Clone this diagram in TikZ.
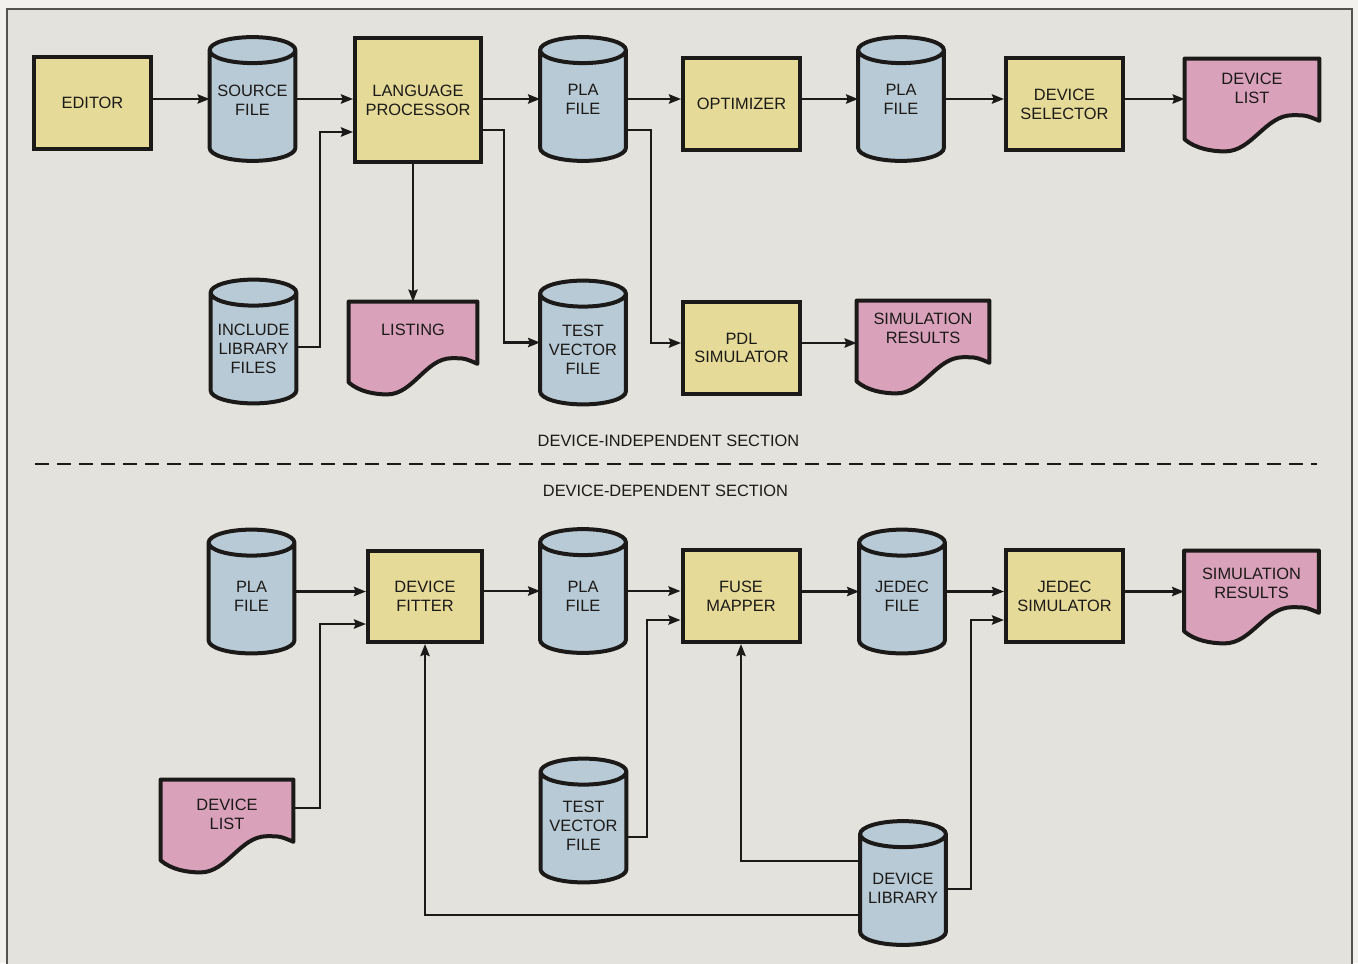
\documentclass[tikz,border=0pt]{standalone}
\usepackage{fontspec}
\setmainfont{Liberation Sans}
\usetikzlibrary{arrows.meta,calc}
\definecolor{yel}{HTML}{E6DA98}
\definecolor{blu}{HTML}{B8CAD6}
\definecolor{pnk}{HTML}{D9A2BA}
\definecolor{paper}{HTML}{E4E2DC}
\definecolor{outerc}{HTML}{F2F1EE}
\definecolor{ink}{HTML}{1C1A18}
\definecolor{framec}{HTML}{555350}
\pgfdeclarelayer{bg}\pgfdeclarelayer{shp}\pgfsetlayers{bg,shp,main}
\newcommand\lbl{\fontsize{8.2pt}{9.4pt}\selectfont}
\newcommand\cylshape[1]{%
  \path[draw=ink,line width=2pt,fill=blu] let \p1=(#1.north west), \p2=(#1.south east), \n1={(\x2-\x1)/2} in
   (\x1,\y1-6.5pt) -- (\x1,\y2+6.5pt) arc[start angle=180,end angle=360,x radius=\n1,y radius=6.5pt]
   -- (\x2,\y1-6.5pt) arc[start angle=0,end angle=180,x radius=\n1,y radius=6.5pt] -- cycle
   (\x1,\y1-6.5pt) arc[start angle=180,end angle=360,x radius=\n1,y radius=6.5pt];}
\newcommand\docshape[1]{%
  \path[draw=ink,line width=2pt,fill=pnk,line join=round] let \p1=(#1.north west), \p2=(#1.south east), \n1={\x2-\x1}, \n2={\y1-\y2} in
   (\x1,\y1) -- (\x2,\y1) -- (\x2,\y1-0.67*\n2)
   .. controls (\x1+0.9*\n1,\y1-0.61*\n2) .. (\x1+0.8*\n1,\y1-0.61*\n2)
   .. controls (\x1+0.6*\n1,\y1-0.61*\n2) and (\x1+0.5*\n1,\y2) .. (\x1+0.3*\n1,\y2)
   .. controls (\x1+0.2*\n1,\y2) and (\x1+0.08*\n1,\y1-0.97*\n2) .. (\x1,\y1-0.87*\n2) -- cycle;}
\begin{document}
\begin{tikzpicture}[x=0.5pt,y=-0.5pt,
  box/.style={draw=ink,line width=2pt,fill=yel,minimum width=58.5pt,minimum height=46pt,align=center,inner sep=0pt,font=\lbl,text=ink},
  cyl/.style={rectangle,draw=none,minimum width=42.5pt,minimum height=61.5pt,inner sep=0pt},
  cyllbl/.style={anchor=center,yshift=-32.5pt,align=center,font=\lbl,text=ink,inner sep=0pt},
  doc/.style={rectangle,draw=none,minimum width=67pt,minimum height=46pt,inner sep=0pt},
  doclbl/.style={anchor=center,yshift=-14pt,align=center,font=\lbl,text=ink,inner sep=0pt},
  sect/.style={font=\lbl,text=ink,inner sep=0pt},
  arr/.style={draw=ink,line width=1.2pt,-{Stealth[length=6pt,width=4.6pt,inset=0.8pt]}},
  dashline/.style={draw=ink,line width=1.1pt,dash pattern=on 7pt off 4pt}]
\useasboundingbox (0,0) rectangle (1358,963);
\begin{pgfonlayer}{bg}
\fill[outerc] (0,0) rectangle (1358,963);
\draw[fill=paper,draw=framec,line width=0.9pt] (7,9) rectangle (1352,990);
\end{pgfonlayer}
% boxes
\node[box] (editor) at (92.5,103) {EDITOR};
\node[box,minimum width=63pt,minimum height=62pt] (lp) at (418,100) {LANGUAGE\\PROCESSOR};
\node[box] (opt) at (741.5,104) {OPTIMIZER};
\node[box] (ds) at (1064.5,104) {DEVICE\\SELECTOR};
\node[box] (pdl) at (741.5,348) {PDL\\SIMULATOR};
\node[box,minimum width=57pt,minimum height=45.5pt] (df) at (425,596.5) {DEVICE\\FITTER};
\node[box] (fm) at (741,596) {FUSE\\MAPPER};
\node[box] (js) at (1064.5,596) {JEDEC\\SIMULATOR};
% cylinders
\node[cyl,label={[cyllbl,yshift=1pt]90:SOURCE\\FILE}] (src) at (252.5,99) {};
\node[cyl,label={[cyllbl,yshift=1.5pt]90:PLA\\FILE}] (pla1) at (583,99) {};
\node[cyl,label={[cyllbl,yshift=1.5pt]90:PLA\\FILE}] (pla2) at (901,99) {};
\node[cyl,label={[cyllbl,yshift=-2pt]90:INCLUDE\\LIBRARY\\FILES}] (inc) at (253.5,341.5) {};
\node[cyl,label={[cyllbl,yshift=-2pt]90:TEST\\VECTOR\\FILE}] (tv1) at (583,342.5) {};
\node[cyl,label={[cyllbl,yshift=-1pt]90:PLA\\FILE}] (pla3) at (251.5,591.5) {};
\node[cyl,label={[cyllbl,yshift=-1pt]90:PLA\\FILE}] (pla4) at (583,591) {};
\node[cyl,label={[cyllbl,yshift=-1pt]90:JEDEC\\FILE}] (jedec) at (902,591.5) {};
\node[cyl,label={[cyllbl,yshift=-1pt]90:TEST\\VECTOR\\FILE}] (tv2) at (583.5,820.5) {};
\node[cyl,label={[cyllbl,yshift=-1pt]90:DEVICE\\LIBRARY}] (lib) at (903,883) {};
% documents
\node[doc,label={[doclbl,yshift=-1pt]90:DEVICE\\LIST}] (dl1) at (1252,105) {};
\node[doc,minimum width=64pt,label={[doclbl]90:LISTING}] (listing) at (413,348) {};
\node[doc,minimum width=66pt,label={[doclbl]90:SIMULATION\\RESULTS}] (sr1) at (923,347) {};
\node[doc,label={[doclbl,yshift=-2.5pt]90:SIMULATION\\RESULTS}] (sr2) at (1251.5,597) {};
\node[doc,minimum width=66pt,label={[doclbl,yshift=-3.5pt]90:DEVICE\\LIST}] (dl2) at (227,826) {};
\begin{pgfonlayer}{shp}
\cylshape{src}\cylshape{pla1}\cylshape{pla2}\cylshape{inc}\cylshape{tv1}
\cylshape{pla3}\cylshape{pla4}\cylshape{jedec}\cylshape{tv2}\cylshape{lib}
\docshape{dl1}\docshape{listing}\docshape{sr1}\docshape{sr2}\docshape{dl2}
\end{pgfonlayer}
% section labels
\node[sect] (t1) at (668.5,441) {DEVICE-INDEPENDENT SECTION};
\node[sect] (t2) at (665.5,491) {DEVICE-DEPENDENT SECTION};
\draw[dashline] (35,464) -- (1317,464);
% top connectors
\draw[arr] (editor.east |- src.west) -- (src.west);
\draw[arr] (src.east) -- (src.east -| lp.west);
\draw[arr] (lp.east |- pla1.west) -- (pla1.west);
\draw[arr] (pla1.east) -- (pla1.east -| opt.west);
\draw[arr] (opt.east |- pla2.west) -- (pla2.west);
\draw[arr] (pla2.east) -- (pla2.east -| ds.west);
\draw[arr] (ds.east |- pla2.east) -- (pla2.east -| dl1.west);
\coordinate (j1) at (320,132);
\draw[arr] ([yshift=-2.75pt]inc.east) -| (j1) -- (j1 -| lp.west);
\draw[arr] (listing.north |- lp.south) -- (listing.north);
\coordinate (j2) at (504,130);
\draw[arr] (j2 -| lp.east) -- (j2) |- (tv1.west);
\coordinate (j3) at (651,130);
\coordinate (j3b) at (651,343);
\draw[arr] (j3 -| pla1.east) -- (j3) -- (j3b) -- (j3b -| pdl.west);
\draw[arr] (j3b -| pdl.east) -- (j3b -| sr1.west);
% bottom connectors
\draw[arr] (pla3.east) -- (pla3.east -| df.west);
\draw[arr] (df.east |- pla4.west) -- (pla4.west);
\draw[arr] (pla4.east) -- (pla4.east -| fm.west);
\draw[arr] (fm.east |- jedec.west) -- (jedec.west);
\draw[arr] (jedec.east) -- (jedec.east -| js.west);
\draw[arr] (js.east |- jedec.east) -- (jedec.east -| sr2.west);
\coordinate (j4) at (320,624);
\draw[arr] ([yshift=9pt]dl2.east) -| (j4) -- (j4 -| df.west);
\coordinate (j5) at (647,620);
\draw[arr] ([yshift=-8.25pt]tv2.east) -| (j5) -- (j5 -| fm.west);
\draw[arr] ([yshift=-16pt]lib.west) -| (df.south);
\draw[arr] ([yshift=11pt]lib.west) -| (fm.south);
\coordinate (j6) at (971,620);
\draw[arr] ([yshift=-3pt]lib.east) -| (j6) -- (j6 -| js.west);
\end{tikzpicture}
\end{document}
